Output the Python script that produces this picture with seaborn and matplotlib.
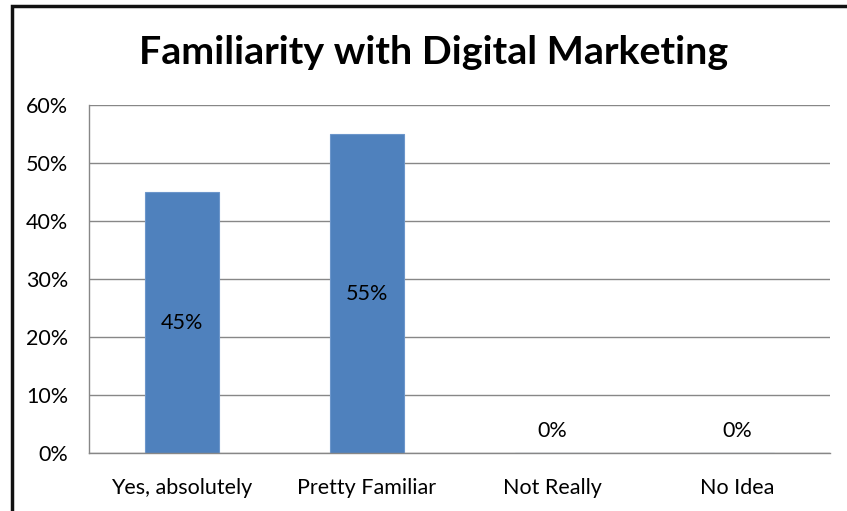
import matplotlib
matplotlib.use("Agg")
import matplotlib.pyplot as plt
from matplotlib.patches import Rectangle
from matplotlib.ticker import FixedLocator, PercentFormatter
import seaborn as sns
import pandas as pd

categories = ["Yes, absolutely", "Pretty Familiar", "Not Really", "No Idea"]
shares = [45, 55, 0, 0]
title_text = "Familiarity with Digital Marketing"
y_ticks = [0, 10, 20, 30, 40, 50, 60]

sns.set_theme(style="white")
plt.rcParams["font.family"] = ["Lato", "DejaVu Sans"]

df = pd.DataFrame({"category": categories, "share": shares})

fig = plt.figure(figsize=(8.47, 5.11), dpi=100)
ax = fig.add_axes([89 / 847, 1 - 453 / 511, (830 - 89) / 847, (453 - 105) / 511])

sns.barplot(data=df, x="category", y="share", color="#4F81BD", width=0.4,
            saturation=1, edgecolor="#6C96CB", linewidth=0.8, ax=ax)

ax.set_xlim(-0.5, len(categories) - 0.5)
ax.set_ylim(0, 60)
ax.yaxis.set_major_locator(FixedLocator(y_ticks))
ax.yaxis.set_major_formatter(PercentFormatter(decimals=0))
ax.grid(axis="y", color="#878787", linewidth=1.0)
ax.set_axisbelow(True)

for side in ("top", "right"):
    ax.spines[side].set_visible(False)
for side in ("left", "bottom"):
    ax.spines[side].set_color("#878787")
    ax.spines[side].set_linewidth(1.0)

label_size = 15.5
ax.set_xlabel("")
ax.set_ylabel("")
ax.tick_params(axis="x", which="major", length=0, pad=18, labelsize=label_size, labelcolor="black")
ax.set_xticks([i - 0.5 for i in range(len(categories) + 1)], minor=True)
ax.tick_params(axis="x", which="minor", length=7, width=1.0, color="#878787", direction="out")
ax.tick_params(axis="y", length=7, width=1.0, color="#878787", direction="out",
               labelsize=label_size, labelcolor="black", pad=8)

# value labels centred in the bars; empty bars get theirs just above the axis
for i, v in enumerate(shares):
    if v > 0:
        ax.text(i, v / 2, f"{v}%", ha="center", va="center", fontsize=label_size, color="black")
    else:
        ax.annotate(f"{v}%", xy=(i, 0), xytext=(0, 15.5), textcoords="offset points",
                    ha="center", va="center", fontsize=label_size, color="black")

fig.text(434 / 847, 1 - 52 / 511, title_text, ha="center", va="center",
         fontsize=28.4, fontweight="bold", color="black")

# chart frame
fig.patches.append(Rectangle((11.5 / 847, -0.1), 1.2, 1 - 6 / 511 + 0.1,
                             transform=fig.transFigure, fill=False,
                             edgecolor="#111111", linewidth=2.5, zorder=10))

fig.savefig("out.png", dpi=100, facecolor="white")
